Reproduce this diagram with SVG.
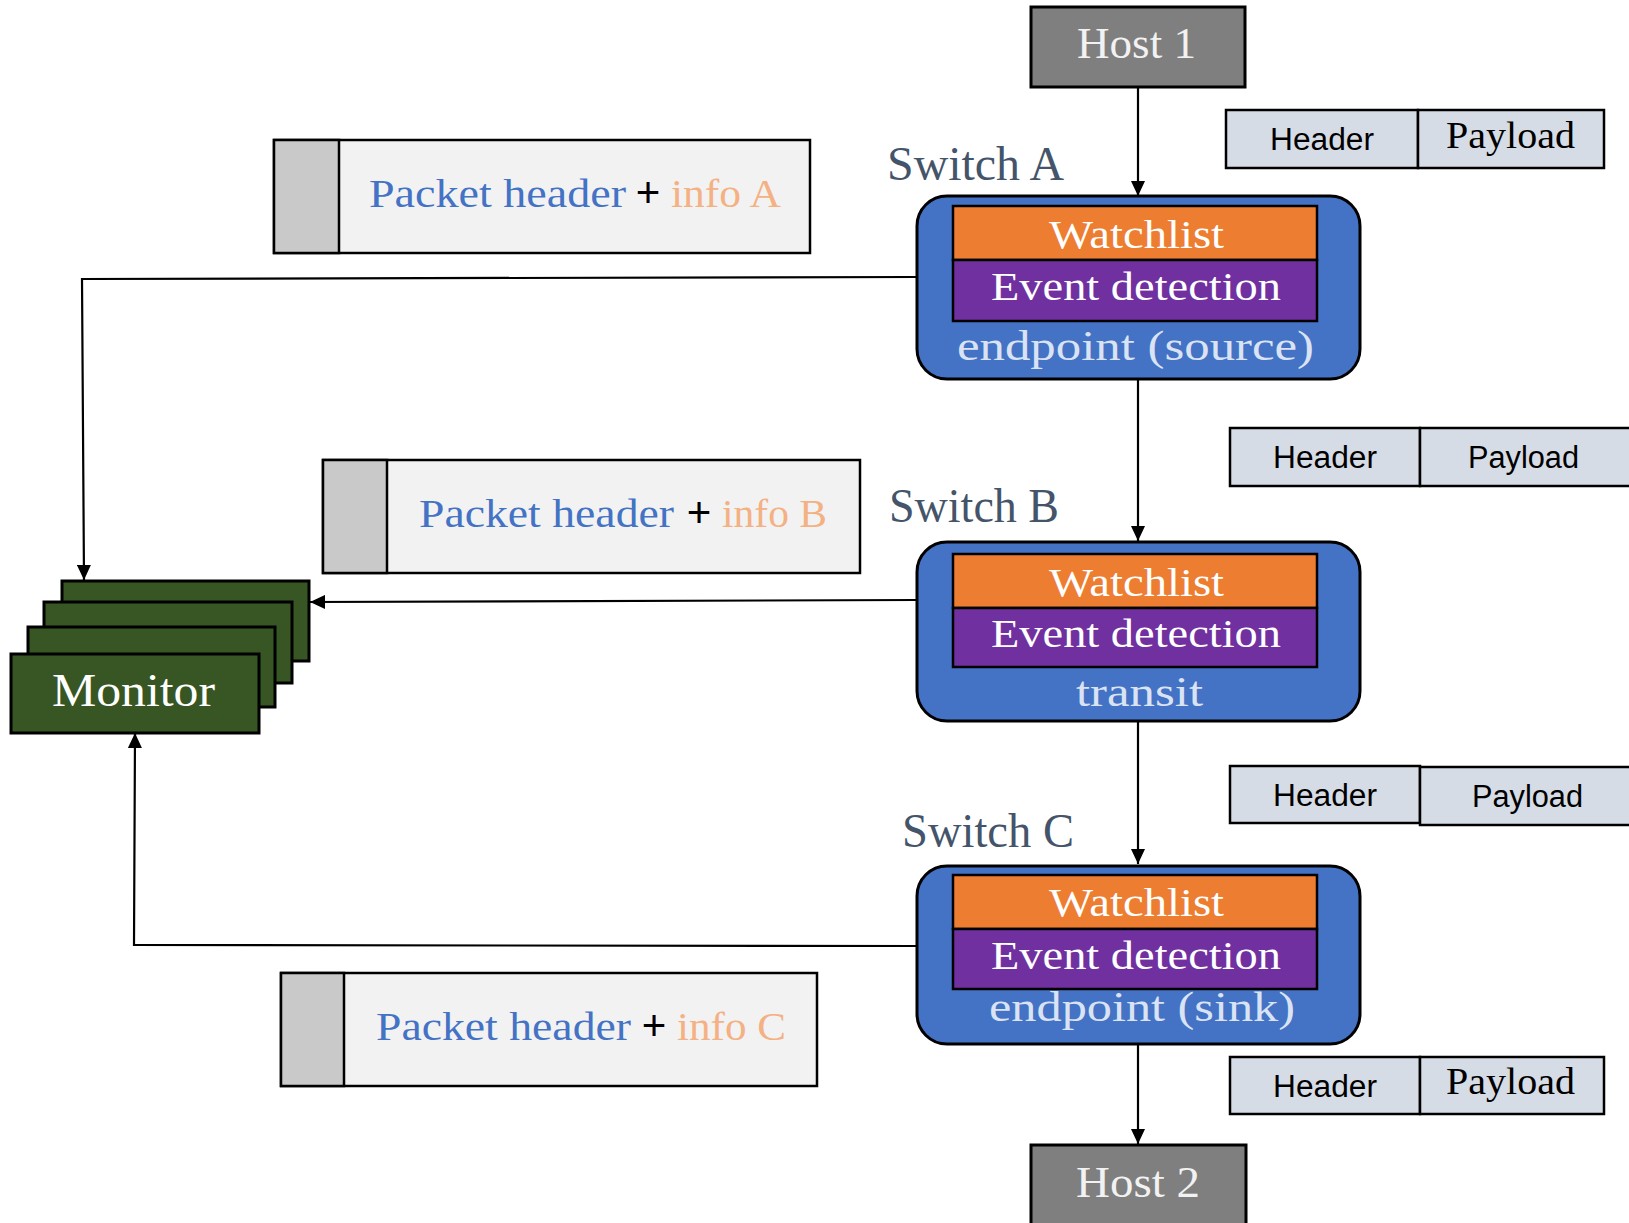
<svg xmlns="http://www.w3.org/2000/svg" width="1629" height="1223" viewBox="0 0 1629 1223">
  <style>
    .serif { font-family: "Liberation Serif", "DejaVu Serif", serif; }
    .sans { font-family: "Liberation Sans", Arial, sans-serif; }
    .host { fill: #7f7f7f; stroke: #000; stroke-width: 3; }
    .host-t { fill: #f2f2f2; font-size: 44px; }
    .sw { fill: #4472c4; stroke: #000; stroke-width: 3; }
    .wl { fill: #ed7d31; stroke: #000; stroke-width: 2.5; }
    .ed { fill: #7030a0; stroke: #000; stroke-width: 2.5; }
    .in-t { fill: #ffffff; font-size: 41px; }
    .role-t { fill: #dae3f3; font-size: 43px; }
    .sw-label { fill: #44546a; font-size: 48px; }
    .pkt { fill: #d6dce5; stroke: #000; stroke-width: 2.5; }
    .pkt-t { fill: #000; font-size: 31px; }
    .pkt-st { fill: #000; font-size: 38px; }
    .info-bg { fill: #f2f2f2; stroke: #000; stroke-width: 2.5; }
    .info-tab { fill: #c9c9c9; stroke: #000; stroke-width: 2.5; }
    .blue { fill: #4472c4; font-size: 41px; }
    .orange { fill: #f4b183; font-size: 41px; }
    .plus { fill: #000; font-size: 42px; }
    .mon { fill: #375623; stroke: #000; stroke-width: 3; }
    .mon-t { fill: #ffffff; font-size: 46px; }
    .conn { fill: none; stroke: #000; stroke-width: 2.2; marker-end: url(#arrow); }
  </style>
  <defs>
    <marker id="arrow" markerUnits="userSpaceOnUse" markerWidth="15" markerHeight="14" refX="15" refY="7" orient="auto">
      <path d="M0,0 L15,7 L0,14 z" fill="#000"/>
    </marker>
  </defs>

  <rect width="1629" height="1223" fill="#ffffff"/>

  <!-- connectors -->
  <g id="connectors">
    <path class="conn" d="M1138,87 V196"/>
    <path class="conn" d="M1138,379 V541"/>
    <path class="conn" d="M1138,721 V864"/>
    <path class="conn" d="M1138,1044 V1144"/>
    <path class="conn" d="M917,277 L82,279 L84,580"/>
    <path class="conn" d="M917,600 L310,602"/>
    <path class="conn" d="M917,946 L134,945 L135,733"/>
  </g>

  <!-- hosts -->
  <g id="host1">
    <rect class="host" x="1031" y="7" width="214" height="80"/>
    <text class="serif host-t" x="1077" y="58" textLength="119" lengthAdjust="spacingAndGlyphs">Host 1</text>
  </g>
  <g id="host2">
    <rect class="host" x="1031" y="1145" width="215" height="90"/>
    <text class="serif host-t" x="1076" y="1197" textLength="124" lengthAdjust="spacingAndGlyphs">Host 2</text>
  </g>

  <!-- switch A -->
  <g id="switchA">
    <text class="serif sw-label" x="887" y="180" textLength="177" lengthAdjust="spacingAndGlyphs">Switch A</text>
    <rect class="sw" x="917" y="196" width="443" height="183" rx="30" ry="30"/>
    <rect class="wl" x="953" y="206" width="364" height="54"/>
    <rect class="ed" x="953" y="260" width="364" height="61"/>
    <text class="serif in-t" x="1049" y="248" textLength="175" lengthAdjust="spacingAndGlyphs">Watchlist</text>
    <text class="serif in-t" x="991" y="300" textLength="290" lengthAdjust="spacingAndGlyphs">Event detection</text>
    <text class="serif role-t" x="957" y="360" textLength="357" lengthAdjust="spacingAndGlyphs">endpoint (source)</text>
  </g>

  <!-- switch B -->
  <g id="switchB">
    <text class="serif sw-label" x="889" y="522" textLength="170" lengthAdjust="spacingAndGlyphs">Switch B</text>
    <rect class="sw" x="917" y="542" width="443" height="179" rx="30" ry="30"/>
    <rect class="wl" x="953" y="554" width="364" height="54"/>
    <rect class="ed" x="953" y="608" width="364" height="59"/>
    <text class="serif in-t" x="1049" y="596" textLength="175" lengthAdjust="spacingAndGlyphs">Watchlist</text>
    <text class="serif in-t" x="991" y="647" textLength="290" lengthAdjust="spacingAndGlyphs">Event detection</text>
    <text class="serif role-t" x="1076" y="706" textLength="127" lengthAdjust="spacingAndGlyphs">transit</text>
  </g>

  <!-- switch C -->
  <g id="switchC">
    <text class="serif sw-label" x="902" y="847" textLength="172" lengthAdjust="spacingAndGlyphs">Switch C</text>
    <rect class="sw" x="917" y="866" width="443" height="178" rx="30" ry="30"/>
    <rect class="wl" x="953" y="875" width="364" height="54"/>
    <rect class="ed" x="953" y="929" width="364" height="60"/>
    <text class="serif in-t" x="1049" y="916" textLength="175" lengthAdjust="spacingAndGlyphs">Watchlist</text>
    <text class="serif in-t" x="991" y="969" textLength="290" lengthAdjust="spacingAndGlyphs">Event detection</text>
    <text class="serif role-t" x="989" y="1021" textLength="306" lengthAdjust="spacingAndGlyphs">endpoint (sink)</text>
  </g>

  <!-- packet on the wire: host 1 to switch A -->
  <g id="packet1">
    <rect class="pkt" x="1226" y="110" width="192" height="58"/>
    <rect class="pkt" x="1418" y="110" width="186" height="58"/>
    <text class="sans pkt-t" x="1270" y="150" textLength="104" lengthAdjust="spacingAndGlyphs">Header</text>
    <text class="serif pkt-st" x="1446" y="148" textLength="129" lengthAdjust="spacingAndGlyphs">Payload</text>
  </g>

  <!-- packet: switch A to switch B -->
  <g id="packet2">
    <rect class="pkt" x="1230" y="428" width="190" height="58"/>
    <rect class="pkt" x="1420" y="428" width="220" height="58"/>
    <text class="sans pkt-t" x="1273" y="468" textLength="104" lengthAdjust="spacingAndGlyphs">Header</text>
    <text class="sans pkt-t" x="1468" y="468" textLength="111" lengthAdjust="spacingAndGlyphs">Payload</text>
  </g>

  <!-- packet: switch B to switch C -->
  <g id="packet3">
    <rect class="pkt" x="1230" y="766" width="190" height="57"/>
    <rect class="pkt" x="1420" y="767" width="220" height="58"/>
    <text class="sans pkt-t" x="1273" y="806" textLength="104" lengthAdjust="spacingAndGlyphs">Header</text>
    <text class="sans pkt-t" x="1472" y="807" textLength="111" lengthAdjust="spacingAndGlyphs">Payload</text>
  </g>

  <!-- packet: switch C to host 2 -->
  <g id="packet4">
    <rect class="pkt" x="1230" y="1057" width="190" height="57"/>
    <rect class="pkt" x="1420" y="1057" width="184" height="57"/>
    <text class="sans pkt-t" x="1273" y="1097" textLength="104" lengthAdjust="spacingAndGlyphs">Header</text>
    <text class="serif pkt-st" x="1446" y="1094" textLength="129" lengthAdjust="spacingAndGlyphs">Payload</text>
  </g>

  <!-- telemetry reports -->
  <g id="reportA">
    <rect class="info-bg" x="274" y="140" width="536" height="113"/>
    <rect class="info-tab" x="274" y="140" width="65" height="113"/>
    <text class="serif blue" x="369" y="207" textLength="257" lengthAdjust="spacingAndGlyphs">Packet header</text>
    <text class="sans plus" x="648" y="207" text-anchor="middle">+</text>
    <text class="serif orange" x="671" y="207" textLength="110" lengthAdjust="spacingAndGlyphs">info A</text>
  </g>
  <g id="reportB">
    <rect class="info-bg" x="323" y="460" width="537" height="113"/>
    <rect class="info-tab" x="323" y="460" width="64" height="113"/>
    <text class="serif blue" x="419" y="527" textLength="255" lengthAdjust="spacingAndGlyphs">Packet header</text>
    <text class="sans plus" x="699" y="527" text-anchor="middle">+</text>
    <text class="serif orange" x="722" y="527" textLength="105" lengthAdjust="spacingAndGlyphs">info B</text>
  </g>
  <g id="reportC">
    <rect class="info-bg" x="281" y="973" width="536" height="113"/>
    <rect class="info-tab" x="281" y="973" width="63" height="113"/>
    <text class="serif blue" x="376" y="1040" textLength="255" lengthAdjust="spacingAndGlyphs">Packet header</text>
    <text class="sans plus" x="654" y="1040" text-anchor="middle">+</text>
    <text class="serif orange" x="677" y="1040" textLength="109" lengthAdjust="spacingAndGlyphs">info C</text>
  </g>

  <!-- monitor (stacked instances) -->
  <g id="monitor">
    <rect class="mon" x="62" y="581" width="247" height="80"/>
    <rect class="mon" x="44" y="602" width="248" height="81"/>
    <rect class="mon" x="28" y="627" width="247" height="80"/>
    <rect class="mon" x="11" y="654" width="248" height="79"/>
    <text class="serif mon-t" x="52" y="706" textLength="163" lengthAdjust="spacingAndGlyphs">Monitor</text>
  </g>
</svg>
